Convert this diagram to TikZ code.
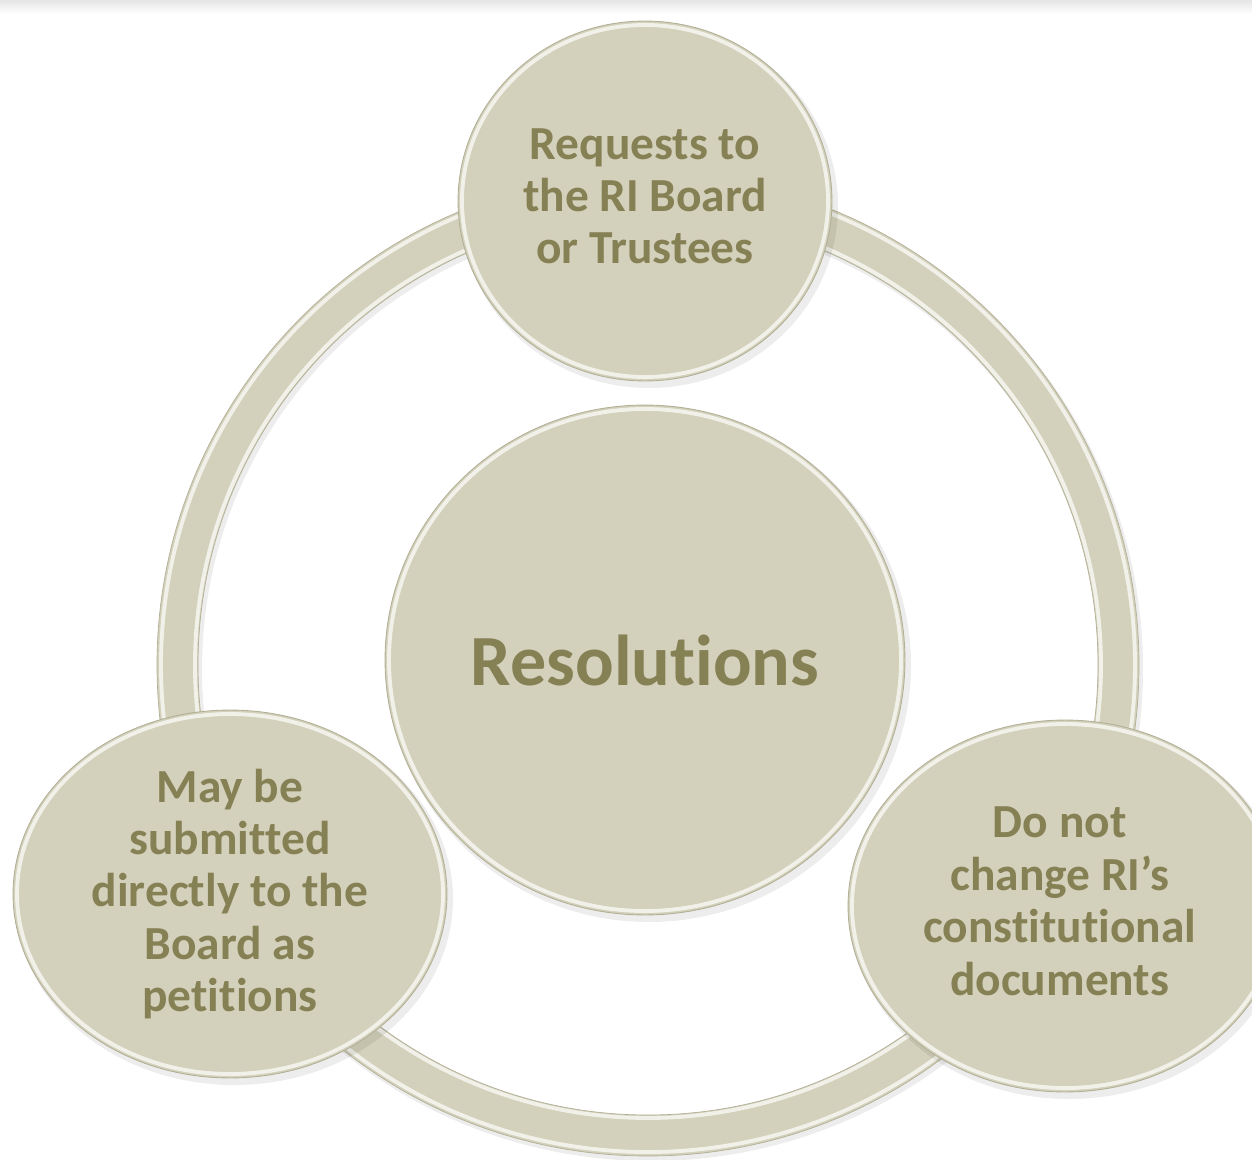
\documentclass[tikz,border=0pt]{standalone}
\usepackage{fontspec}
\setmainfont{Carlito}[Ligatures={NoCommon}]
\usetikzlibrary{shapes.geometric}
\definecolor{bfill}{RGB}{211,209,187}
\definecolor{btext}{RGB}{134,128,85}
\definecolor{bedge}{RGB}{178,176,150}
\tikzset{
  bubble/.style={ellipse, fill=bfill, draw=bedge, line width=0.5pt, text=btext,
    align=center, inner sep=0pt, font=\fontsize{27}{29.8}\selectfont\bfseries},
  rim/.style={draw=white, line width=2.2pt, opacity=0.7},
  shadowfill/.style={fill=black, opacity=0.07}
}
\begin{document}
\begin{tikzpicture}[x=0.02cm,y=-0.02cm]
\useasboundingbox (0,0) rectangle (1252,1160);
\fill[white] (0,0) rectangle (1252,1160);
\shade[top color=black!10, bottom color=white] (0,0) rectangle (1252,14);
% ring
\fill[shadowfill, even odd rule] (651,669) circle [radius=492] (651,669) circle [radius=449];
\fill[bfill, even odd rule] (648,665) circle [radius=491] (648,665) circle [radius=450];
\draw[bedge, line width=0.4pt] (648,665) circle [radius=491];
\draw[bedge, line width=0.4pt] (648,665) circle [radius=450];
\draw[rim] (648,665) circle [radius=487];
\draw[rim] (648,665) circle [radius=453];
% centre
\fill[shadowfill] (649,665) ellipse [x radius=262, y radius=257];
\node[bubble, minimum width=10.4cm, minimum height=10.2cm, font=\fontsize{41}{48}\selectfont\bfseries] (res) at (645,660) {Resolutions};
\draw[rim] (645,660) ellipse [x radius=256, y radius=251];
% top
\fill[shadowfill] (649,206) ellipse [x radius=189, y radius=182];
\node[bubble, minimum width=7.48cm, minimum height=7.2cm] (top) at (645,201) {\raisebox{0.14cm}{\begin{tabular}{@{}c@{}}Requests to\\the RI Board\\or Trustees\end{tabular}}};
\draw[rim] (645,201) ellipse [x radius=183, y radius=176];
% left
\fill[shadowfill] (234,899) ellipse [x radius=219, y radius=186];
\node[bubble, minimum width=8.68cm, minimum height=7.36cm] (left) at (230,894) {May be\\submitted\\directly to the\\Board as\\petitions};
\draw[rim] (230,894) ellipse [x radius=213, y radius=180];
% right
\fill[shadowfill] (1069,911) ellipse [x radius=219, y radius=188];
\node[bubble, minimum width=8.68cm, minimum height=7.44cm] (right) at (1065,906) {\hspace*{-6pt}\begin{tabular}{@{}c@{}}Do not\\change RI’s\\constitutional\\documents\end{tabular}};
\draw[rim] (1065,906) ellipse [x radius=213, y radius=182];
\end{tikzpicture}
\end{document}
